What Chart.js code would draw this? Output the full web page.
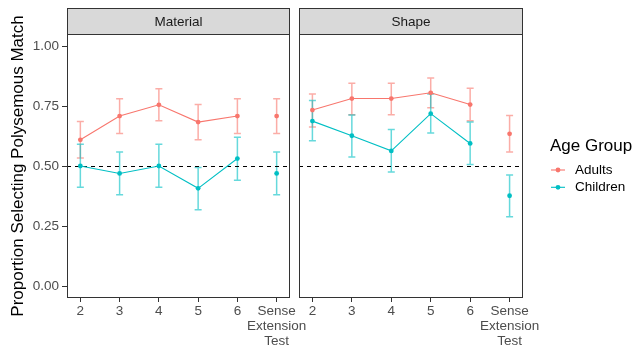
<!DOCTYPE html>
<html>
<head>
<meta charset="utf-8">
<script src="https://cdn.jsdelivr.net/npm/chart.js@4/dist/chart.umd.min.js"></script>
<style>
    html, body { margin: 0; padding: 0; background: #fff; }
    #wrap { position: relative; width: 635px; height: 347px; overflow: hidden; }
    #materialChart { position: absolute; left: 0; top: 0; }
    #shapeChart { position: absolute; left: 280px; top: 0; }
</style>
</head>
<body>
<div id="wrap">
    <canvas id="materialChart" width="320" height="347" style="width:320px;height:347px"></canvas>
    <canvas id="shapeChart" width="355" height="347" style="width:355px;height:347px"></canvas>
</div>
<script>
// values, x = 2..6 then "Sense Extension Test" at 7
const categories = ["2", "3", "4", "5", "6", "Sense Extension Test"];
const categoryPositions = [2, 3, 4, 5, 6, 7];
const yTicks = [0, 0.25, 0.5, 0.75, 1];
const chanceLevel = 0.5;

const materialAdults = [0.609, 0.708, 0.755, 0.683, 0.708, 0.708];
const materialAdultsLow = [0.533, 0.635, 0.689, 0.609, 0.635, 0.635];
const materialAdultsHigh = [0.685, 0.780, 0.822, 0.756, 0.780, 0.780];
const materialChildren = [0.500, 0.469, 0.500, 0.407, 0.531, 0.469];
const materialChildrenLow = [0.411, 0.380, 0.411, 0.318, 0.441, 0.380];
const materialChildrenHigh = [0.591, 0.558, 0.591, 0.494, 0.620, 0.558];

const shapeAdults = [0.733, 0.781, 0.781, 0.805, 0.756, 0.634];
const shapeAdultsLow = [0.662, 0.714, 0.714, 0.743, 0.689, 0.558];
const shapeAdultsHigh = [0.800, 0.845, 0.845, 0.867, 0.824, 0.710];
const shapeChildren = [0.687, 0.626, 0.563, 0.718, 0.594, 0.376];
const shapeChildrenLow = [0.605, 0.538, 0.475, 0.637, 0.506, 0.289];
const shapeChildrenHigh = [0.773, 0.712, 0.652, 0.800, 0.683, 0.462];

const colors = {
    adults: "#F8766D",
    adultsFaded: "rgba(248,118,109,0.6)",
    children: "#00BFC4",
    childrenFaded: "rgba(0,191,196,0.6)"
};
const fontFamily = "'Liberation Sans', Arial, sans-serif";
Chart.defaults.font.family = fontFamily;

function seriesDatasets(label, values, low, high, color, faded) {
    const points = categoryPositions.map((x, i) => ({x: x, y: values[i], low: low[i], high: high[i]}));
    const common = {
        label: label,
        borderColor: color,
        backgroundColor: color,
        errorColor: faded,
        borderWidth: 1.1,
        pointRadius: 2.4,
        pointHoverRadius: 2.4,
        pointBorderWidth: 0
    };
    // lines join the ages only, the sense extension test stands alone
    return [
        Object.assign({}, common, {data: points.slice(0, 5)}),
        Object.assign({}, common, {data: points.slice(5), showLine: false})
    ];
}

const errorBars = {
    id: "errorBars",
    beforeDatasetsDraw(chart) {
        const {ctx, scales: {x, y}} = chart;
        chart.data.datasets.forEach((dataset) => {
            ctx.save();
            ctx.strokeStyle = dataset.errorColor;
            ctx.lineWidth = 1.5;
            dataset.data.forEach((point) => {
                const px = x.getPixelForValue(point.x);
                const top = y.getPixelForValue(point.high);
                const bottom = y.getPixelForValue(point.low);
                ctx.beginPath();
                ctx.moveTo(px, top);
                ctx.lineTo(px, bottom);
                ctx.moveTo(px - 3.5, top);
                ctx.lineTo(px + 3.5, top);
                ctx.moveTo(px - 3.5, bottom);
                ctx.lineTo(px + 3.5, bottom);
                ctx.stroke();
            });
            ctx.restore();
        });
    }
};

const panelFrame = {
    id: "panelFrame",
    beforeDatasetsDraw(chart) {
        const {ctx, chartArea, scales: {y}} = chart;
        const py = Math.round(y.getPixelForValue(chanceLevel)) + 0.5;
        ctx.save();
        ctx.strokeStyle = "#000";
        ctx.lineWidth = 1;
        ctx.setLineDash([4, 4]);
        ctx.beginPath();
        ctx.moveTo(chartArea.left, py);
        ctx.lineTo(chartArea.right, py);
        ctx.stroke();
        ctx.restore();
    },
    afterDraw(chart, args, opts) {
        const {ctx, chartArea} = chart;
        const w = chartArea.right - chartArea.left;
        const stripTop = 8;
        ctx.save();
        ctx.strokeStyle = "#333";
        ctx.lineWidth = 1;
        ctx.fillStyle = "#D9D9D9";
        ctx.fillRect(chartArea.left, stripTop, w, chartArea.top - stripTop);
        ctx.strokeRect(chartArea.left + 0.5, stripTop + 0.5, w - 1, chartArea.top - stripTop);
        ctx.strokeRect(chartArea.left + 0.5, chartArea.top + 0.5, w - 1, chartArea.bottom - chartArea.top - 1);
        ctx.fillStyle = "#1A1A1A";
        ctx.font = `13.5px ${fontFamily}`;
        ctx.textAlign = "center";
        ctx.textBaseline = "middle";
        ctx.fillText(opts.title, chartArea.left + w / 2, (stripTop + chartArea.top) / 2 + 1);
        ctx.restore();
    }
};

const ageLegend = {
    id: "ageLegend",
    afterDraw(chart, args, opts) {
        const ctx = chart.ctx;
        const left = opts.left;
        ctx.save();
        ctx.fillStyle = "#000";
        ctx.font = `17px ${fontFamily}`;
        ctx.textBaseline = "middle";
        ctx.fillText("Age Group", left, 146);
        opts.items.forEach((item, i) => {
            const cy = 170 + i * 17.3;
            ctx.strokeStyle = item.color;
            ctx.lineWidth = 1.1;
            ctx.beginPath();
            ctx.moveTo(left + 1, cy);
            ctx.lineTo(left + 15, cy);
            ctx.stroke();
            ctx.fillStyle = item.color;
            ctx.beginPath();
            ctx.arc(left + 8, cy, 2.4, 0, Math.PI * 2);
            ctx.fill();
            ctx.fillStyle = "#000";
            ctx.font = `13.5px ${fontFamily}`;
            ctx.fillText(item.label, left + 25, cy);
        });
        ctx.restore();
    }
};

function tickLabel(value) {
    const index = categoryPositions.indexOf(value);
    return index < 0 ? "" : categories[index].split(" ");
}

function xScale() {
    return {
        type: "linear",
        min: 1.66,
        max: 7.34,
        afterBuildTicks: (scale) => {
            scale.ticks = categoryPositions.map((v) => ({value: v}));
        },
        afterFit: (scale) => {
            scale.height = 49;
        },
        ticks: {
            callback: tickLabel,
            autoSkip: false,
            maxRotation: 0,
            color: "#4D4D4D",
            font: {size: 13.5, lineHeight: 1.1},
            padding: 2
        },
        grid: {display: true, drawOnChartArea: false, drawTicks: true, tickLength: 4, color: "#333"},
        border: {display: false}
    };
}

function yScale(showAxis) {
    return {
        min: -0.05,
        max: 1.05,
        display: showAxis,
        afterBuildTicks: (scale) => {
            scale.ticks = yTicks.map((v) => ({value: v}));
        },
        afterFit: (scale) => {
            scale.width = showAxis ? 67 : 0;
        },
        ticks: {
            callback: (v) => v.toFixed(2),
            color: "#4D4D4D",
            font: {size: 13.5},
            padding: 3
        },
        grid: {display: true, drawOnChartArea: false, drawTicks: true, tickLength: 5, color: "#333"},
        border: {display: false},
        title: {
            display: true,
            text: "Proportion Selecting Polysemous Match",
            color: "#000",
            font: {size: 17},
            padding: {top: 8, bottom: 0}
        }
    };
}

function renderPanel(canvasId, title, datasets, padding, showAxis, extraPlugins, legendOpts) {
    return new Chart(document.getElementById(canvasId), {
        type: "line",
        data: {datasets: datasets},
        options: {
            responsive: false,
            animation: false,
            events: [],
            layout: {padding: padding},
            scales: {x: xScale(), y: yScale(showAxis)},
            plugins: {
                legend: {display: false},
                tooltip: {enabled: false},
                panelFrame: {title: title},
                ageLegend: legendOpts || {}
            }
        },
        plugins: [errorBars, panelFrame].concat(extraPlugins)
    });
}

renderPanel("materialChart", "Material",
    seriesDatasets("Adults", materialAdults, materialAdultsLow, materialAdultsHigh, colors.adults, colors.adultsFaded)
        .concat(seriesDatasets("Children", materialChildren, materialChildrenLow, materialChildrenHigh, colors.children, colors.childrenFaded)),
    {top: 34, right: 30, left: 0, bottom: 0}, true, []);

renderPanel("shapeChart", "Shape",
    seriesDatasets("Adults", shapeAdults, shapeAdultsLow, shapeAdultsHigh, colors.adults, colors.adultsFaded)
        .concat(seriesDatasets("Children", shapeChildren, shapeChildrenLow, shapeChildrenHigh, colors.children, colors.childrenFaded)),
    {top: 34, right: 112, left: 19, bottom: 0}, false, [ageLegend],
    {left: 270, items: [{label: "Adults", color: colors.adults}, {label: "Children", color: colors.children}]});
</script>
</body>
</html>
